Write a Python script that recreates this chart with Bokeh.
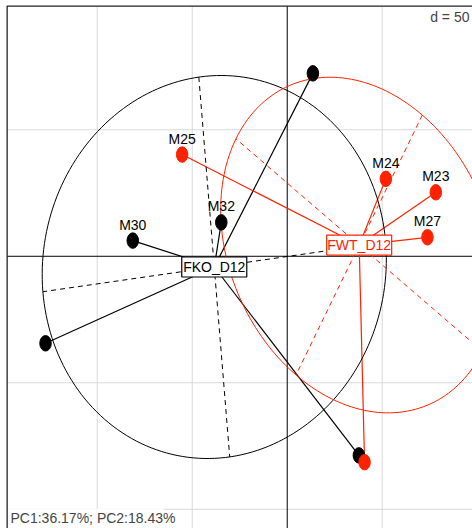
import numpy as np
from bokeh.plotting import figure
from bokeh.models import Range1d, Label, BoxAnnotation
from bokeh.core.properties import value
from bokeh.embed import file_html
from bokeh.resources import INLINE

# principal-component scores of each sample, by group
group_names = ["FKO_D12", "FWT_D12"]
group_colors = ["#000000", "#ff2200"]

fko_x = [-81.3, -34.7, 13.5, -127.2, 37.7]
fko_y = [6.2, 13.4, 72.3, -34.4, -78.7]
fko_labels = ["M30", "M32", "", "", ""]

fwt_x = [-55.3, 51.9, 78.2, 73.8, 40.7]
fwt_y = [40.2, 30.6, 25.3, 7.5, -81.4]
fwt_labels = ["M25", "M24", "M23", "M27", ""]

grid_x = [-100, -50, 50]
grid_y = [50, -50, -100]
grid_step_label = "d = 50"
inertia_label = "PC1:36.17%; PC2:18.43%"

cellipse = 1.5
FONT_NAME = "Liberation Sans"
FONT = value(FONT_NAME)
FONT_SIZE = "14px"

p = figure(width=472, height=528, output_backend="svg", toolbar_location=None,
           x_axis_location=None, y_axis_location=None, min_border=0,
           x_range=Range1d(-150.9, 97.5), y_range=Range1d(-107.6, 101.1))
p.grid.visible = False
p.outline_line_color = None
p.background_fill_color = "white"

# plotting region frame and grid
fl, ft, fr, fb = -147.4, 98.9, 300, -300
p.segment(x0=grid_x, y0=[fb] * len(grid_x), x1=grid_x, y1=[ft] * len(grid_x),
          line_color="#d9d9d9", line_width=1)
p.segment(x0=[fl] * len(grid_y), y0=grid_y, x1=[fr] * len(grid_y), y1=grid_y,
          line_color="#d9d9d9", line_width=1)
p.segment(x0=[0, fl], y0=[fb, 0], x1=[0, fr], y1=[ft, 0], line_color="#000000", line_width=1)
p.quad(left=fl, right=fr, top=ft, bottom=fb, fill_color=None, line_color="#222222", line_width=1.3)

groups = [(fko_x, fko_y, fko_labels), (fwt_x, fwt_y, fwt_labels)]
centers = []

# stars from group centroid to each sample
for (xs, ys, _), col in zip(groups, group_colors):
    xs = np.asarray(xs); ys = np.asarray(ys)
    cx, cy = xs.mean(), ys.mean()
    centers.append((cx, cy))
    p.segment(x0=[cx] * len(xs), y0=[cy] * len(ys), x1=xs, y1=ys, line_color=col, line_width=1.2)

# inertia ellipses with their axes
t = np.linspace(0, 2 * np.pi, 200)
for (xs, ys, _), col, (cx, cy) in zip(groups, group_colors, centers):
    xs = np.asarray(xs); ys = np.asarray(ys)
    vxx = np.mean((xs - cx) ** 2)
    vyy = np.mean((ys - cy) ** 2)
    vxy = np.mean((xs - cx) * (ys - cy))
    evals, evecs = np.linalg.eigh(np.array([[vxx, vxy], [vxy, vyy]]))
    l2, l1 = np.sqrt(np.clip(evals, 0, None))
    u = evecs[:, 1]
    v = evecs[:, 0]
    ex = cx + cellipse * (l1 * np.cos(t) * u[0] + l2 * np.sin(t) * v[0])
    ey = cy + cellipse * (l1 * np.cos(t) * u[1] + l2 * np.sin(t) * v[1])
    p.line(ex, ey, line_color=col, line_width=1)
    a1 = cellipse * l1 * u
    a2 = cellipse * l2 * v
    p.segment(x0=[cx - a1[0], cx - a2[0]], y0=[cy - a1[1], cy - a2[1]],
              x1=[cx + a1[0], cx + a2[0]], y1=[cy + a1[1], cy + a2[1]],
              line_color=col, line_width=1, line_dash="5 4")

# sample points and their names
for (xs, ys, labs), col in zip(groups, group_colors):
    p.ellipse(x=xs, y=ys, width=11.5, height=15.5, width_units="screen", height_units="screen",
              fill_color=col, line_color=col)
for (xs, ys, labs), col in zip(groups, group_colors):
    keep = [i for i, s in enumerate(labs) if s]
    p.text(x=[xs[i] for i in keep], y=[ys[i] for i in keep], text=[labs[i] for i in keep],
           text_font=FONT, text_font_size=FONT_SIZE, text_color="#000000",
           text_align="center", text_baseline="middle", y_offset=-16)

# group labels in boxes
for name, col, (cx, cy) in zip(group_names, group_colors, centers):
    p.rect(x=[cx], y=[cy], width=65, height=20, width_units="screen", height_units="screen",
           fill_color="white", line_color=col, line_width=1.2)
    p.text(x=[cx], y=[cy], text=[name], text_font=FONT, text_font_size=FONT_SIZE,
           text_color=col, text_align="center", text_baseline="middle")

p.add_layout(Label(x=469, y=512, x_units="screen", y_units="screen", text=grid_step_label,
                   text_font=FONT_NAME, text_font_size=FONT_SIZE, text_align="right",
                   text_baseline="middle"))
p.add_layout(BoxAnnotation(left=7.5, right=163, bottom=-5, top=20,
                           left_units="screen", right_units="screen",
                           bottom_units="screen", top_units="screen",
                           fill_color="white", fill_alpha=1, line_color=None))
p.add_layout(Label(x=10, y=11, x_units="screen", y_units="screen", text=inertia_label,
                   text_font=FONT_NAME, text_font_size=FONT_SIZE, text_align="left",
                   text_baseline="middle"))

open("out.html", "w").write(file_html(p, INLINE))
